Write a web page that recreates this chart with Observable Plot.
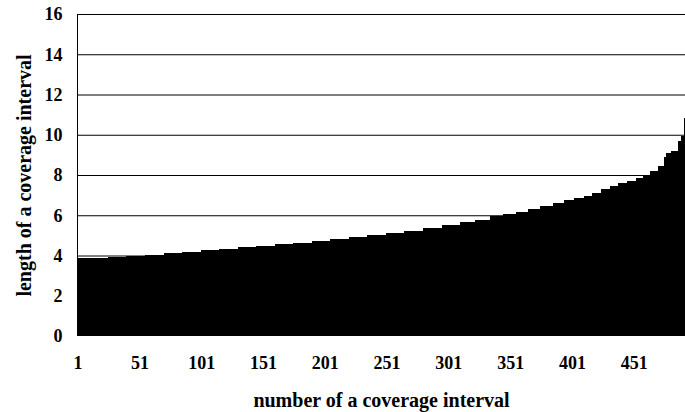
<!DOCTYPE html>
<html>
<head>
<meta charset="utf-8">
<script src="https://cdn.jsdelivr.net/npm/d3@7"></script>
<script src="https://cdn.jsdelivr.net/npm/@observablehq/plot@0.6"></script>
<style>
  html, body { margin: 0; padding: 0; background: #fff; }
  #chart { width: 685px; height: 412px; }
  svg { font-family: "Liberation Serif", "Times New Roman", serif; font-weight: bold; }
</style>
</head>
<body>
<div id="chart"></div>
<script>
// Sorted interval lengths, stored as runs (value, number of bars)
const runValues = [3.86, 3.90, 3.94, 3.98, 4.04, 4.10, 4.18, 4.25, 4.33, 4.40, 4.47, 4.55, 4.64, 4.72, 4.82, 4.92, 5.02, 5.13, 5.24, 5.36, 5.50, 5.64, 5.78, 5.96, 6.05, 6.18, 6.32, 6.46, 6.62, 6.74, 6.86, 6.98, 7.12, 7.28, 7.44, 7.58, 7.72, 7.86, 8.02, 8.20, 8.45, 8.90, 9.08, 9.18, 9.68, 9.95, 10.83];
const runCounts = [10, 15, 15, 15, 15, 15, 15, 15, 15, 15, 15, 15, 15, 15, 15, 15, 15, 15, 15, 15, 15, 12, 12, 11, 10, 10, 10, 10, 9, 8, 8, 7, 7, 7, 7, 7, 7, 6, 6, 6, 5, 2, 4, 5, 3, 2, 1];
const xTicks = [1, 51, 101, 151, 201, 251, 301, 351, 401, 451];
const yTicks = [0, 2, 4, 6, 8, 10, 12, 14, 16];
const xTitle = "number of a coverage interval";
const yTitle = "length of a coverage interval";

const data = [];
runValues.forEach((v, k) => {
  for (let j = 0; j < runCounts[k]; j++) data.push({n: data.length + 1, len: v});
});

const chart = Plot.plot({
  width: 685,
  height: 412,
  marginLeft: 77,
  marginRight: 0,
  marginTop: 14,
  marginBottom: 76,
  style: {fontFamily: "'Liberation Serif', 'Times New Roman', serif", fontWeight: "bold", fontSize: "18px", background: "#fff", color: "#000"},
  x: {type: "band", domain: data.map(d => d.n), padding: 0},
  y: {domain: [0, 16]},
  marks: [
    Plot.ruleY(yTicks.slice(1), {stroke: "#000", strokeWidth: 1}),
    Plot.barY(data, {x: "n", y: "len", fill: "#000", shapeRendering: "crispEdges"}),
    Plot.axisY({ticks: yTicks, tickSize: 0, tickPadding: 15, tickFormat: d => String(d), label: null, fontSize: 18}),
    Plot.axisX({ticks: xTicks, tickSize: 0, tickPadding: 20, tickFormat: d => String(d), label: null, fontSize: 18}),
    Plot.ruleX([1], {stroke: "#000", strokeWidth: 1, dx: -0.6, y1: 0, y2: 16}),
    Plot.text([xTitle], {frameAnchor: "bottom", lineAnchor: "middle", textAnchor: "middle", dy: 64, fontSize: 20, fontWeight: "bold"}),
    Plot.text([yTitle], {frameAnchor: "left", lineAnchor: "middle", textAnchor: "middle", dx: -53, rotate: -90, fontSize: 20, fontWeight: "bold"})
  ]
});
document.getElementById("chart").append(chart);
</script>
</body>
</html>
